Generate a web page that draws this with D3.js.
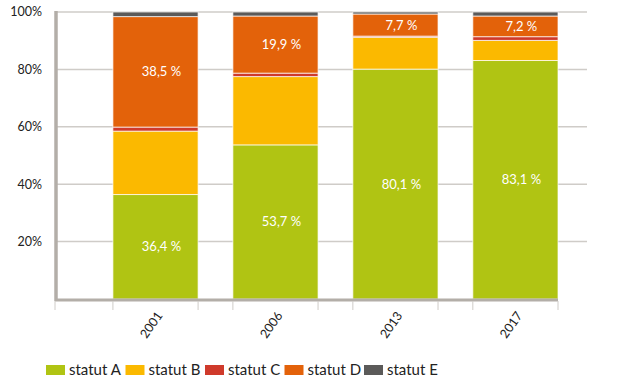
<!DOCTYPE html>
<html>
<head>
<meta charset="utf-8">
<script src="https://cdn.jsdelivr.net/npm/d3@7"></script>
<style>
  body { margin: 0; background: #fff; }
  svg text { font-family: Lato, "Open Sans", sans-serif; }
</style>
</head>
<body>
<div class="graph"></div>
<script>
// data
const years = ["2001", "2006", "2013", "2017"];
const statuts = ["statut A", "statut B", "statut C", "statut D", "statut E"];
const statutA = [36.4, 53.7, 80.1, 83.1];
const statutB = [22.1, 23.8, 11.1, 7.0];
const statutC = [1.4, 1.2, 0.4, 1.3];
const statutD = [38.5, 19.9, 7.7, 7.2];
const statutE = [1.6, 1.4, 0.7, 1.4];
const yTicks = [20, 40, 60, 80, 100];
// which segments carry a value label
const labelled = ["statut A", "statut D"];

const colors = ["#b0c413", "#fbb900", "#cf3a2b", "#e3620a", "#5b5a59"];

const width = 617, height = 390;
const plotLeft = 57, plotRight = 558, gridRight = 587, plotTop = 12, plotBottom = 299;

const table = years.map(function(y, i){
    return {
        year: y,
        "statut A": statutA[i],
        "statut B": statutB[i],
        "statut C": statutC[i],
        "statut D": statutD[i],
        "statut E": statutE[i]
    };
});

const svg = d3.select(".graph").append("svg")
    .attr("width", width)
    .attr("height", height);

//Scales
const x = d3.scaleBand()
    .domain(years)
    .range([plotLeft, plotRight])
    .paddingInner(0.29)
    .paddingOuter(0.233)
    .align(1);

const y = d3.scaleLinear()
    .domain([0, 100])
    .range([plotBottom, plotTop]);

const color = d3.scaleOrdinal().domain(statuts).range(colors);

//Grid
svg.append("g")
    .selectAll("line")
    .data(yTicks)
    .join("line")
    .attr("x1", plotLeft)
    .attr("x2", gridRight)
    .attr("y1", function(d){ return y(d); })
    .attr("y2", function(d){ return y(d); })
    .attr("stroke", "#cfccc8")
    .attr("stroke-width", 1.5);

//Y labels
svg.append("g")
    .selectAll("text")
    .data(yTicks)
    .join("text")
    .attr("x", 42)
    .attr("y", function(d){ return y(d); })
    .attr("dy", "0.35em")
    .attr("text-anchor", "end")
    .attr("font-size", 12.5)
    .attr("fill", "#222")
    .text(function(d){ return d + "%"; });

//Bars
const series = d3.stack().keys(statuts)(table);

const layer = svg.append("g")
    .selectAll("g")
    .data(series)
    .join("g")
    .attr("fill", function(d){ return color(d.key); });

layer.selectAll("rect")
    .data(function(d){ return d; })
    .join("rect")
    .attr("x", function(d){ return x(d.data.year); })
    .attr("y", function(d){ return y(d[1]); })
    .attr("width", x.bandwidth())
    .attr("height", function(d){ return y(d[0]) - y(d[1]); })
    .attr("stroke", "#fff")
    .attr("stroke-opacity", 0.7)
    .attr("stroke-width", 1);

//Value labels
series.filter(function(s){ return labelled.indexOf(s.key) >= 0; }).forEach(function(s){
    svg.append("g")
        .selectAll("text")
        .data(s)
        .join("text")
        .attr("x", function(d){ return x(d.data.year) + x.bandwidth() / 2 + 6; })
        .attr("y", function(d){ return y((d[0] + d[1]) / 2); })
        .attr("dy", "0.35em")
        .attr("text-anchor", "middle")
        .attr("font-size", 13)
        .attr("fill", "#fff")
        .text(function(d){ return String(+(d[1] - d[0]).toFixed(1)).replace(".", ",") + " %"; });
});

//Axis lines
svg.append("line")
    .attr("x1", plotLeft - 1).attr("x2", plotLeft - 1)
    .attr("y1", plotTop - 1).attr("y2", plotBottom + 2)
    .attr("stroke", "#b3aea8")
    .attr("stroke-width", 3.5);

svg.append("line")
    .attr("x1", plotLeft - 2).attr("x2", plotRight)
    .attr("y1", plotBottom + 1).attr("y2", plotBottom + 1)
    .attr("stroke", "#b3aea8")
    .attr("stroke-width", 3);

//X ticks at bar edges
const edges = [plotLeft - 2];
years.forEach(function(yr){
    edges.push(x(yr));
    edges.push(x(yr) + x.bandwidth());
});

svg.append("g")
    .selectAll("line")
    .data(edges)
    .join("line")
    .attr("x1", function(d){ return d; })
    .attr("x2", function(d){ return d; })
    .attr("y1", plotBottom + 2)
    .attr("y2", plotBottom + 11)
    .attr("stroke", "#cfccc8")
    .attr("stroke-width", 1);

//X labels
svg.append("g")
    .selectAll("text")
    .data(years)
    .join("text")
    .attr("transform", function(d){
        return "translate(" + (x(d) + x.bandwidth() / 2 + 4) + "," + (plotBottom + 14) + ") rotate(-55)";
    })
    .attr("text-anchor", "end")
    .attr("dy", "0.35em")
    .attr("font-size", 12.5)
    .attr("fill", "#222")
    .text(function(d){ return d; });

//Legend
const legend = svg.append("g")
    .selectAll("g")
    .data(statuts)
    .join("g")
    .attr("transform", function(d, i){ return "translate(" + (46 + i * 79.5) + ",365)"; });

legend.append("rect")
    .attr("width", 19)
    .attr("height", 10)
    .attr("fill", function(d){ return color(d); });

legend.append("text")
    .attr("x", 23)
    .attr("y", 5)
    .attr("dy", "0.35em")
    .attr("font-size", 15)
    .attr("fill", "#222")
    .text(function(d){ return d; });
</script>
</body>
</html>
